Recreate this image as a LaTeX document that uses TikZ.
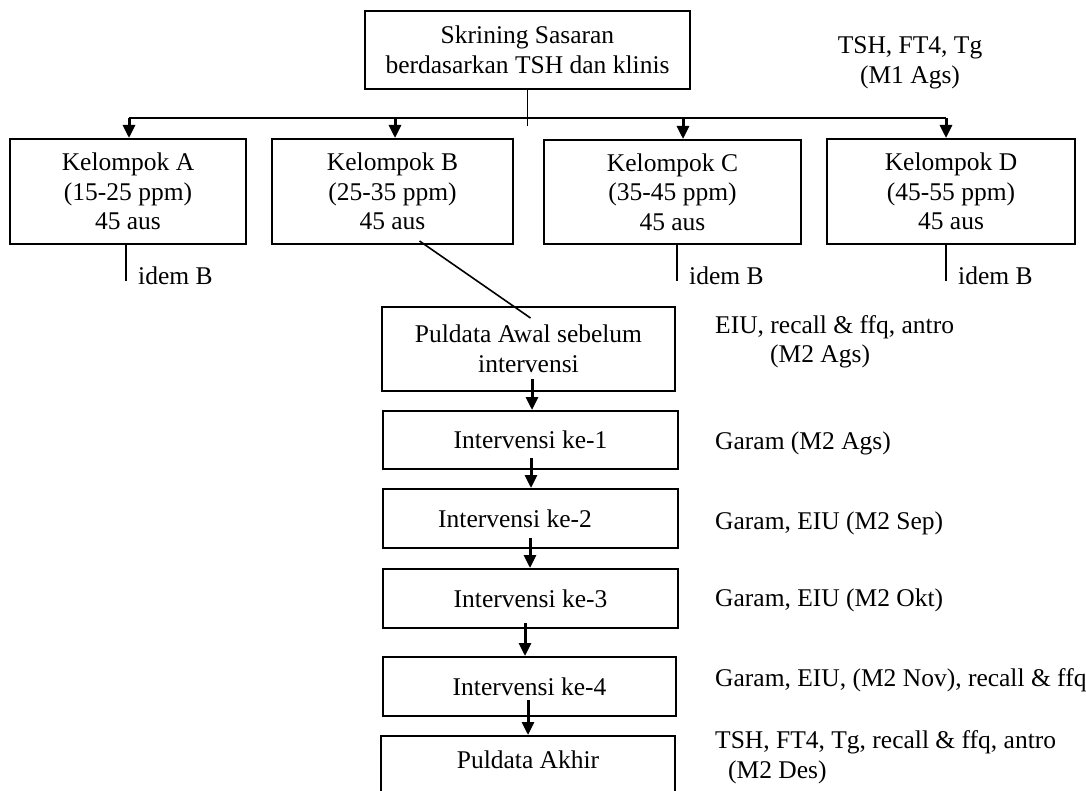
\documentclass[tikz,border=0pt]{standalone}
\usepackage{fontspec}
\setmainfont{Liberation Serif}
\usepackage{tikz}
\usetikzlibrary{positioning, arrows.meta, calc}

\tikzset{
  stepbox/.style={draw, line width=2pt, minimum height=58pt, align=center, inner sep=0pt},
  note/.style={inner sep=0pt, align=left, anchor=west},
  arr/.style={line width=3pt, -{Triangle[length=13pt,width=12pt]}},
  thinline/.style={line width=1.6pt}
}

\begin{document}
\begin{tikzpicture}[x=1pt,y=-1pt,font=\fontsize{25.5}{29.5}\selectfont]
\useasboundingbox (0,0) rectangle (1086,791);
\clip (0,0) rectangle (1086,791);
\fill[white] (0,0) rectangle (1086,791);
% skrining
\node[stepbox, minimum width=325pt, minimum height=78pt] (skrining) at (527.5,50) {Skrining Sasaran\\berdasarkan TSH dan klinis};
\node[align=center, inner sep=0pt] (m1) at (910,63) {TSH, FT4, Tg\\(M1 Ags)};
% kelompok
\node[stepbox, minimum width=236pt, minimum height=105pt] (kelA) at (128,191.5) {Kelompok A\\(15-25 ppm)\\45 aus};
\node[stepbox, minimum width=241pt, minimum height=105pt] (kelB) at (392.5,191.5) {Kelompok B\\(25-35 ppm)\\45 aus};
\node[stepbox, minimum width=257pt, minimum height=104pt] (kelC) at (672.5,192) {Kelompok C\\(35-45 ppm)\\45 aus};
\node[stepbox, minimum width=248pt, minimum height=105pt] (kelD) at (951,191.5) {Kelompok D\\(45-55 ppm)\\45 aus};
% bus
\coordinate (busA) at (129,118);
\coordinate (busB) at (395,118);
\coordinate (busC) at (683,118);
\coordinate (busD) at (946,118);
\draw[thinline] (skrining.south) -- ++(0,36);
\draw[thinline] (busA) -- (busD);
\foreach \c/\k in {busA/kelA, busB/kelB, busC/kelC, busD/kelD}
  \draw[arr] (\c) -- (\c |- \k.north);
% idem B
\foreach \k/\x in {kelA/126, kelC/677, kelD/946}{
  \coordinate (idem-\k) at (\x,281);
  \draw[thinline] (idem-\k |- \k.south) -- (idem-\k);
  \node[inner sep=0pt, anchor=base west] (idemtxt-\k) at ($(idem-\k)+(12,4)$) {idem B};
}
% alur intervensi
\node[stepbox, minimum width=293pt, minimum height=84pt] (awal) at (528.5,349) {Puldata Awal sebelum\\intervensi};
\node[stepbox, minimum width=295pt] (int1) at (530.5,440) {Intervensi ke-1};
\node[stepbox, minimum width=295pt, minimum height=59pt] (int2) at (530.5,518.5) {Intervensi ke-2\hspace*{31pt}};
\node[stepbox, minimum width=295pt, minimum height=59pt] (int3) at (530.5,598.5) {Intervensi ke-3};
\node[stepbox, minimum width=293pt, minimum height=59pt] (int4) at (529.5,686.5) {Intervensi ke-4};
\node[stepbox, minimum width=294pt, minimum height=90pt, anchor=north] (akhir) at (528,735) {};
\node (akhirtxt) at (528,760) {Puldata Akhir};
\draw[thinline] ([xshift=27pt,yshift=4pt]kelB.south) -- ([xshift=2pt,yshift=-12pt]awal.north);
\foreach \u/\v/\dx/\dy in {awal/int1/3.5/13, int1/int2/0.5/12, int2/int3/-0.5/11, int3/int4/-5.5/6, int4/akhir/-1.5/17}
  \draw[arr] ([xshift=\dx pt,yshift=\dy pt]\u.south) -- ([xshift=\dx pt]\u.south |- \v.north);
% keterangan
\node[note] (n0) at (715,342) {EIU, recall \& ffq, antro\\\hspace*{55pt}(M2 Ags)};
\node[note] (n1) at (715,443) {Garam (M2 Ags)};
\node[note] (n2) at (715,523) {Garam, EIU (M2 Sep)};
\node[note] (n3) at (715,600) {Garam, EIU (M2 Okt)};
\node[note] (n4) at (715,680) {Garam, EIU, (M2 Nov), recall \& ffq};
\node[note] (n5) at (715,757) {TSH, FT4, Tg, recall \& ffq, antro\\\hspace*{13pt}(M2 Des)};
\end{tikzpicture}
\end{document}
